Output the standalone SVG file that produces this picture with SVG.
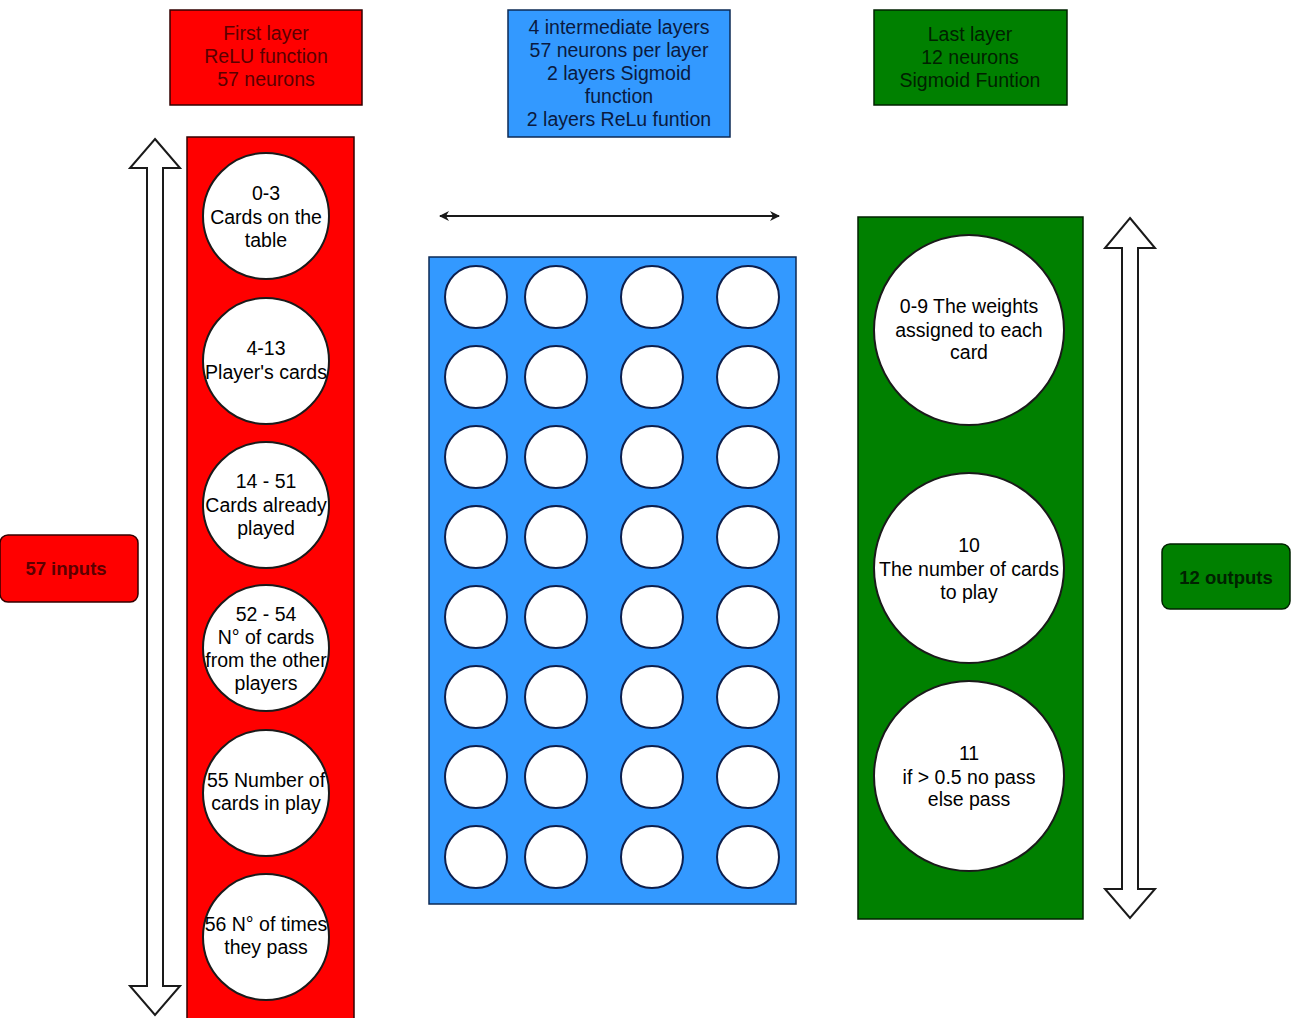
<svg xmlns="http://www.w3.org/2000/svg" width="1294" height="1018" viewBox="0 0 1294 1018">
<style>
text{font-family:"Liberation Sans",Arial,sans-serif;font-size:19.5px;text-anchor:middle}
.hr{fill:#ff0000;stroke:#330000;stroke-width:1.5}
.hb{fill:#3399ff;stroke:#0d2a55;stroke-width:1.5}
.hg{fill:#008000;stroke:#002200;stroke-width:1.5}
.tr{fill:#5a0000}
.tb{fill:#0a1a40}
.tg{fill:#002200}
.c{fill:#ffffff;stroke:#1a1a1a;stroke-width:2}
.cb{fill:#ffffff;stroke:#0d1f4d;stroke-width:2}
.arr{fill:#ffffff;stroke:#1a1a1a;stroke-width:2}
.bold{font-weight:bold;font-size:18.5px}
</style>
<defs>
<marker id="ah" viewBox="0 0 10 10" refX="9" refY="5" markerWidth="10" markerHeight="10" orient="auto-start-reverse" markerUnits="userSpaceOnUse">
<path d="M0,0 L10,5 L0,10 L3,5 Z" fill="#1a1a1a"/>
</marker>
</defs>
<rect width="1294" height="1018" fill="#ffffff"/>

<g id="header-first">
<rect class="hr" x="170" y="10" width="192" height="95"/>
<text class="tr" x="266" y="40">First layer</text>
<text class="tr" x="266" y="63">ReLU function</text>
<text class="tr" x="266" y="86">57 neurons</text>
</g>
<g id="header-mid">
<rect class="hb" x="508" y="10" width="222" height="127"/>
<text class="tb" x="619" y="34">4 intermediate layers</text>
<text class="tb" x="619" y="57">57 neurons per layer</text>
<text class="tb" x="619" y="80">2 layers Sigmoid</text>
<text class="tb" x="619" y="103">function</text>
<text class="tb" x="619" y="126">2 layers ReLu funtion</text>
</g>
<g id="header-last">
<rect class="hg" x="874" y="10" width="193" height="95"/>
<text class="tg" x="970" y="41">Last layer</text>
<text class="tg" x="970" y="64">12 neurons</text>
<text class="tg" x="970" y="87">Sigmoid Funtion</text>
</g>

<g id="inputs">
<rect class="hr" x="0" y="535" width="138" height="67" rx="8"/>
<text class="tr bold" x="66" y="575">57 inputs</text>
</g>
<g id="outputs">
<rect class="hg" x="1162" y="544" width="128" height="65" rx="8"/>
<text class="tg bold" x="1226" y="584">12 outputs</text>
</g>

<g id="first-layer">
<rect class="hr" x="187" y="137" width="167" height="885"/>
<circle class="c" cx="266" cy="216" r="63"/>
<text x="266" y="200">0-3</text>
<text x="266" y="224">Cards on the</text>
<text x="266" y="247">table</text>
<circle class="c" cx="266" cy="361" r="63"/>
<text x="266" y="355">4-13</text>
<text x="266" y="379">Player's cards</text>
<circle class="c" cx="266" cy="505" r="63"/>
<text x="266" y="488">14 - 51</text>
<text x="266" y="512">Cards already</text>
<text x="266" y="535">played</text>
<circle class="c" cx="266" cy="648" r="63"/>
<text x="266" y="621">52 - 54</text>
<text x="266" y="644">N° of cards</text>
<text x="266" y="667">from the other</text>
<text x="266" y="690">players</text>
<circle class="c" cx="266" cy="793" r="63"/>
<text x="266" y="787">55 Number of</text>
<text x="266" y="810">cards in play</text>
<circle class="c" cx="266" cy="937" r="63"/>
<text x="266" y="931">56 N° of times</text>
<text x="266" y="954">they pass</text>
</g>

<g id="hidden-layers">
<rect class="hb" x="429" y="257" width="367" height="647"/>
<g id="hidden-neurons">
<circle class="cb" cx="476" cy="297" r="31"/><circle class="cb" cx="556" cy="297" r="31"/><circle class="cb" cx="652" cy="297" r="31"/><circle class="cb" cx="748" cy="297" r="31"/>
<circle class="cb" cx="476" cy="377" r="31"/><circle class="cb" cx="556" cy="377" r="31"/><circle class="cb" cx="652" cy="377" r="31"/><circle class="cb" cx="748" cy="377" r="31"/>
<circle class="cb" cx="476" cy="457" r="31"/><circle class="cb" cx="556" cy="457" r="31"/><circle class="cb" cx="652" cy="457" r="31"/><circle class="cb" cx="748" cy="457" r="31"/>
<circle class="cb" cx="476" cy="537" r="31"/><circle class="cb" cx="556" cy="537" r="31"/><circle class="cb" cx="652" cy="537" r="31"/><circle class="cb" cx="748" cy="537" r="31"/>
<circle class="cb" cx="476" cy="617" r="31"/><circle class="cb" cx="556" cy="617" r="31"/><circle class="cb" cx="652" cy="617" r="31"/><circle class="cb" cx="748" cy="617" r="31"/>
<circle class="cb" cx="476" cy="697" r="31"/><circle class="cb" cx="556" cy="697" r="31"/><circle class="cb" cx="652" cy="697" r="31"/><circle class="cb" cx="748" cy="697" r="31"/>
<circle class="cb" cx="476" cy="777" r="31"/><circle class="cb" cx="556" cy="777" r="31"/><circle class="cb" cx="652" cy="777" r="31"/><circle class="cb" cx="748" cy="777" r="31"/>
<circle class="cb" cx="476" cy="857" r="31"/><circle class="cb" cx="556" cy="857" r="31"/><circle class="cb" cx="652" cy="857" r="31"/><circle class="cb" cx="748" cy="857" r="31"/>
</g>
</g>

<g id="last-layer">
<rect class="hg" x="858" y="217" width="225" height="702"/>
<circle class="c" cx="969" cy="330" r="95"/>
<text x="969" y="313">0-9 The weights</text>
<text x="969" y="337">assigned to each</text>
<text x="969" y="359">card</text>
<circle class="c" cx="969" cy="568" r="95"/>
<text x="969" y="552">10</text>
<text x="969" y="576">The number of cards</text>
<text x="969" y="599">to play</text>
<circle class="c" cx="969" cy="776" r="95"/>
<text x="969" y="760">11</text>
<text x="969" y="784">if &gt; 0.5 no pass</text>
<text x="969" y="806">else pass</text>
</g>

<g id="connectors">
<path class="arr" d="M155,139 L180,168 L163,168 L163,986 L180,986 L155,1015 L130,986 L147,986 L147,168 L130,168 Z"/>
<path class="arr" d="M1130,218 L1155,248 L1138,248 L1138,889 L1155,889 L1130,918 L1105,889 L1122,889 L1122,248 L1105,248 Z"/>
<line x1="440" y1="216" x2="779" y2="216" stroke="#1a1a1a" stroke-width="2" marker-start="url(#ah)" marker-end="url(#ah)"/>
</g>
</svg>
